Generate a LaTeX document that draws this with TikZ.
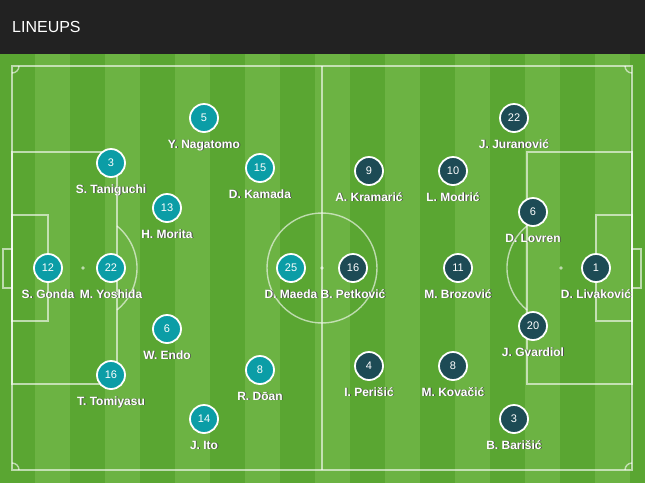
\documentclass[tikz,border=0pt]{standalone}
\usepackage{fontspec}
\setmainfont{Liberation Sans}
\definecolor{hdr}{HTML}{222222}
\definecolor{grdark}{HTML}{5AA632}
\definecolor{grlight}{HTML}{6CB343}
\definecolor{jpc}{HTML}{0B9DA6}
\definecolor{hrc}{HTML}{1D4B55}
\newcommand\shtext[1]{\rlap{\hspace{0.9pt}\raisebox{-0.9pt}{\textcolor{black!70}{#1}}}#1}
\tikzset{
  pline/.style={draw=white, draw opacity=0.6, line width=1.4},
  jp/.style={circle, fill=jpc, draw=white, line width=1.8, minimum size=28, inner sep=0pt, text=white, font=\fontsize{11}{11}\selectfont},
  hr/.style={jp, fill=hrc},
  plabel/.style={text=white, anchor=base, inner sep=0pt, font=\bfseries\fontsize{12}{12}\selectfont}
}
\begin{document}
\begin{tikzpicture}[x=1pt,y=-1pt]
\useasboundingbox (0,0) rectangle (645,483);
\fill[hdr] (0,0) rectangle (645,54);
\foreach \xa in {0,70,...,630} \fill[grdark] (\xa,54) rectangle ++(35,429);
\foreach \xa in {35,105,...,645} \fill[grlight] (\xa,54) rectangle ++(35,429);
\node[anchor=base west, inner sep=0pt, text=white, font=\fontsize{16}{16}\selectfont] (title) at (12,32) {LINEUPS};
% pitch
\draw[pline] (12,66) rectangle (632,470);
\draw[pline] (322,66) -- (322,470);
\draw[pline] (322,268) circle (55);
\fill[white, opacity=0.6] (322,268) circle (1.8);
\draw[pline] (12,152) rectangle (117,384);
\draw[pline] (12,215) rectangle (48,321);
\draw[pline] (3,249) rectangle (12,288);
\fill[white, opacity=0.6] (83,268) circle (1.8);
\draw[pline] (117,226) arc[start angle=-51, end angle=51, radius=54];
\draw[pline] (527,152) rectangle (632,384);
\draw[pline] (596,215) rectangle (632,321);
\draw[pline] (632,249) rectangle (641,288);
\fill[white, opacity=0.6] (561,268) circle (1.8);
\draw[pline] (527,226) arc[start angle=231, end angle=129, radius=54];
\draw[pline] (19,66) arc[start angle=0, end angle=90, radius=7];
\draw[pline] (632,73) arc[start angle=90, end angle=180, radius=7];
\draw[pline] (12,463) arc[start angle=270, end angle=360, radius=7];
\draw[pline] (625,470) arc[start angle=180, end angle=270, radius=7];
% players
\foreach \nm/\x/\y/\num/\who/\st in {
  ja/204/118/5/Y. Nagatomo/jp,
  jb/111/163/3/S. Taniguchi/jp,
  jc/260/168/15/D. Kamada/jp,
  jd/167/208/13/H. Morita/jp,
  je/48/268/12/S. Gonda/jp,
  jf/111/268/22/M. Yoshida/jp,
  jg/291/268/25/D. Maeda/jp,
  jh/167/329/6/W. Endo/jp,
  ji/260/370/8/R. Dōan/jp,
  jj/111/375/16/T. Tomiyasu/jp,
  jk/204/419/14/J. Ito/jp,
  ca/514/118/22/J. Juranović/hr,
  cb/369/171/9/A. Kramarić/hr,
  cc/453/171/10/L. Modrić/hr,
  cd/533/212/6/D. Lovren/hr,
  ce/353/268/16/B. Petković/hr,
  cf/458/268/11/M. Brozović/hr,
  cg/596/268/1/D. Livaković/hr,
  ch/533/326/20/J. Gvardiol/hr,
  ci/369/366/4/I. Perišić/hr,
  cj/453/366/8/M. Kovačić/hr,
  ck/514/419/3/B. Barišić/hr}
{
  \node[\st] (\nm) at (\x,\y) {\num};
  \node[plabel] (\nm-l) at (\x,\y+30) {\shtext{\who}};
}
\end{tikzpicture}
\end{document}
